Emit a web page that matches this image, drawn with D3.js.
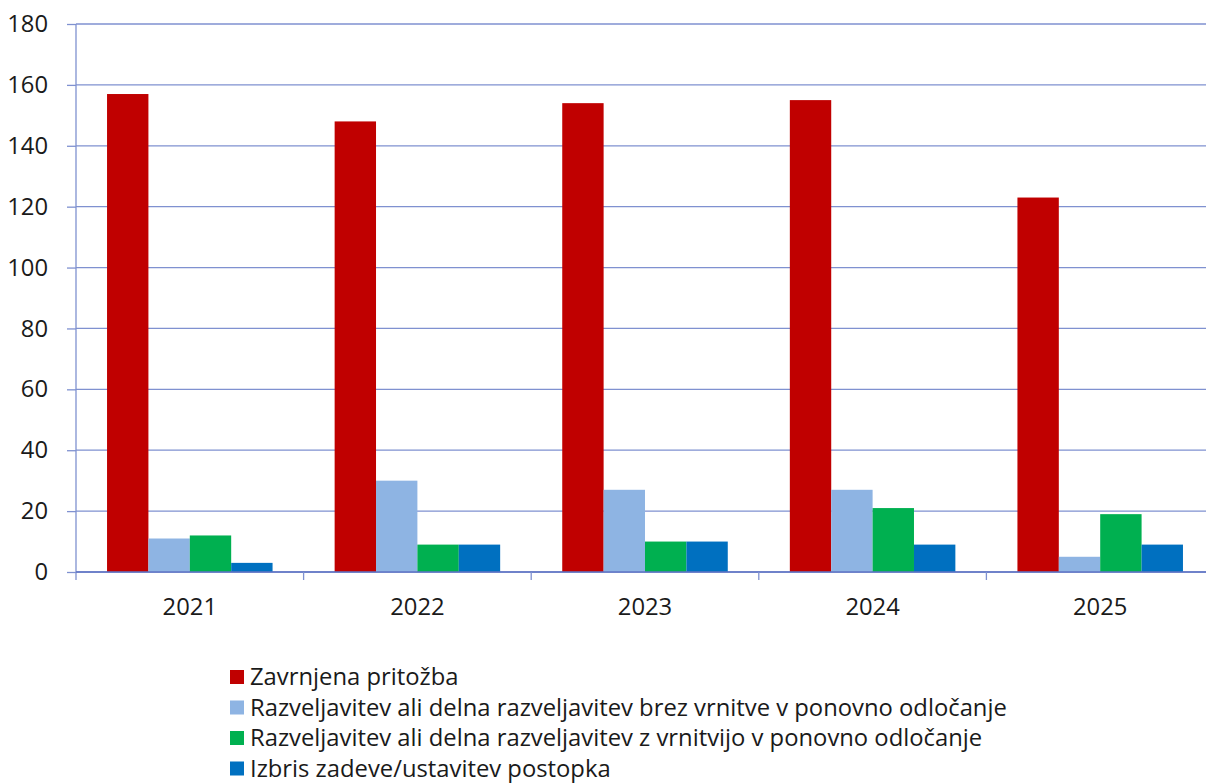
<!DOCTYPE html>
<html><head><meta charset="utf-8">
<script src="https://cdn.jsdelivr.net/npm/d3@7"></script>
<style>body{margin:0;background:#fff;overflow:hidden}svg{display:block;font-family:"Open Sans",sans-serif}</style>
</head><body><svg id="c" width="1206" height="783"></svg>
<script>
const categories = ["2021","2022","2023","2024","2025"];
const seriesNames = [
  "Zavrnjena pritožba",
  "Razveljavitev ali delna razveljavitev brez vrnitve v ponovno odločanje",
  "Razveljavitev ali delna razveljavitev z vrnitvijo v ponovno odločanje",
  "Izbris zadeve/ustavitev postopka"
];
const zavrnjena = [157,148,154,155,123];
const brezVrnitve = [11,30,27,27,5];
const zVrnitvijo = [12,9,10,21,19];
const izbris = [3,9,10,9,9];
const yTicks = [0,20,40,60,80,100,120,140,160,180];
const colors = ["#C00000","#8EB4E3","#00B050","#0070C0"];
const seriesValues = [zavrnjena,brezVrnitve,zVrnitvijo,izbris];

const svg = d3.select("#c");
const L=76, R=1214, T=24, B=572;
const FS=23.8;
const x0 = d3.scaleBand().domain(categories).range([L,R]).padding(0);
const x1 = d3.scaleBand().domain(d3.range(4)).range([0,x0.bandwidth()]).paddingInner(0).paddingOuter(0.75);
const y = d3.scaleLinear().domain([0,180]).range([B,T]);
const gridCol = "#7F91D0";

const ya = svg.append("g").attr("transform",`translate(${L},0)`)
  .call(d3.axisLeft(y).tickValues(yTicks).tickSize(9).tickPadding(19));
ya.select(".domain").remove();
ya.selectAll(".tick line").attr("stroke",gridCol).attr("stroke-width",1.3);
ya.selectAll(".tick text").attr("font-size",FS).attr("fill","#1a1a1a").attr("font-family","Open Sans, sans-serif");
svg.append("g").selectAll("line").data(yTicks).join("line")
  .attr("x1",L).attr("x2",R).attr("y1",d=>y(d)).attr("y2",d=>y(d))
  .attr("stroke",gridCol).attr("stroke-width",1.3);

categories.forEach((c,i)=>{
  seriesValues.forEach((vals,s)=>{
    svg.append("rect").attr("x",x0(c)+x1(s)).attr("width",x1.bandwidth())
      .attr("y",y(vals[i])).attr("height",y(0)-y(vals[i]))
      .attr("fill",colors[s]);
  });
});

svg.append("line").attr("x1",L).attr("x2",L).attr("y1",T).attr("y2",B+8)
  .attr("stroke",gridCol).attr("stroke-width",1.3);
svg.append("line").attr("x1",L).attr("x2",R).attr("y1",B).attr("y2",B)
  .attr("stroke","#5F74C4").attr("stroke-width",1.3);
const bounds = categories.slice(1).map(c=>x0(c));
svg.append("g").selectAll("line").data(bounds).join("line")
  .attr("x1",d=>d).attr("x2",d=>d).attr("y1",B).attr("y2",B+8)
  .attr("stroke",gridCol).attr("stroke-width",1.3);
svg.append("g").selectAll("text").data(categories).join("text")
  .attr("x",d=>x0(d)+x0.bandwidth()/2).attr("y",615).attr("text-anchor","middle")
  .attr("font-size",FS).attr("fill","#1a1a1a").text(d=>d);

const lg = svg.append("g").selectAll("g").data(seriesNames).join("g")
  .attr("transform",(d,i)=>`translate(230,${677+i*30.5})`);
lg.append("rect").attr("x",0).attr("y",-7).attr("width",14).attr("height",14).attr("fill",(d,i)=>colors[i]);
lg.append("text").attr("x",20).attr("y",8).attr("font-size",FS).attr("fill","#1a1a1a").text(d=>d);
</script></body></html>
